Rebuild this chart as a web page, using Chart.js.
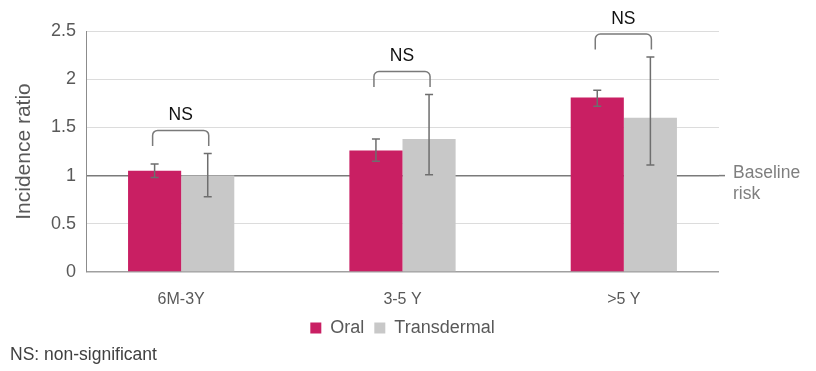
<!DOCTYPE html>
<html>
<head>
<meta charset="utf-8">
<script src="https://cdn.jsdelivr.net/npm/chart.js@4.4.1/dist/chart.umd.min.js"></script>
<style>
  html, body { margin: 0; padding: 0; background: #fff; }
  #wrap { position: relative; width: 816px; height: 371px; }
  #note { position: absolute; left: 10px; top: 344px; font: 17.5px 'Liberation Sans', Arial, sans-serif; color: #404040; }
</style>
</head>
<body>
<div id="wrap">
  <canvas id="chart" width="816" height="371"></canvas>
  <div id="note">NS: non-significant</div>
</div>
<script>
// values
const categories = ["6M-3Y", "3-5 Y", ">5 Y"];
const oralValues = [1.05, 1.26, 1.81];
const oralLow = [0.98, 1.15, 1.72];
const oralHigh = [1.12, 1.38, 1.885];
const transValues = [1.0, 1.38, 1.60];
const transLow = [0.78, 1.01, 1.11];
const transHigh = [1.23, 1.84, 2.23];
const sigLabels = ["NS", "NS", "NS"];
const yTicks = [0, 0.5, 1, 1.5, 2, 2.5];
const baselineValue = 1;
const baselineLabel = ["Baseline", "risk"];

const FONT = "'Liberation Sans', Arial, sans-serif";
Chart.defaults.font.family = FONT;
Chart.defaults.color = "#595959";

const annotations = {
    id: "annotations",
    afterDatasetsDraw(chart) {
        const ctx = chart.ctx;
        const y = chart.scales.y;
        ctx.save();
        ctx.lineWidth = 1.5;
        ctx.strokeStyle = "#6e6e6e";

        // error bars
        [[oralLow, oralHigh], [transLow, transHigh]].forEach(([lo, hi], d) => {
            chart.getDatasetMeta(d).data.forEach((bar, i) => {
                const top = y.getPixelForValue(hi[i]);
                const bot = y.getPixelForValue(lo[i]);
                ctx.beginPath();
                ctx.moveTo(bar.x, top);
                ctx.lineTo(bar.x, bot);
                ctx.moveTo(bar.x - 4, top);
                ctx.lineTo(bar.x + 4, top);
                ctx.moveTo(bar.x - 4, bot);
                ctx.lineTo(bar.x + 4, bot);
                ctx.stroke();
            });
        });

        // significance brackets
        const oralBars = chart.getDatasetMeta(0).data;
        const transBars = chart.getDatasetMeta(1).data;
        ctx.strokeStyle = "#7a7a7a";
        ctx.fillStyle = "#111";
        ctx.font = "17.5px " + FONT;
        ctx.textAlign = "center";
        ctx.textBaseline = "middle";
        sigLabels.forEach((label, i) => {
            const x1 = oralBars[i].x - 2;
            const x2 = transBars[i].x + 1;
            const errTop = Math.min(y.getPixelForValue(oralHigh[i]), y.getPixelForValue(transHigh[i]));
            const bottom = errTop - 7.5;
            const top = bottom - 15.5;
            const r = 5;
            ctx.beginPath();
            ctx.moveTo(x1, bottom);
            ctx.arcTo(x1, top, x2, top, r);
            ctx.arcTo(x2, top, x2, bottom, r);
            ctx.lineTo(x2, bottom);
            ctx.stroke();
            ctx.fillText(label, (x1 + x2) / 2, top - 15);
        });
        ctx.restore();
    },
    afterDraw(chart) {
        const ctx = chart.ctx;
        const area = chart.chartArea;
        const by = chart.scales.y.getPixelForValue(baselineValue);
        ctx.save();
        ctx.strokeStyle = "#7a7a7a";
        ctx.lineWidth = 1.5;
        ctx.beginPath();
        ctx.moveTo(area.right, by);
        ctx.lineTo(area.right + 6, by);
        ctx.stroke();
        ctx.fillStyle = "#7f7f7f";
        ctx.font = "17.5px " + FONT;
        ctx.textAlign = "left";
        ctx.textBaseline = "middle";
        ctx.fillText(baselineLabel[0], area.right + 14, by - 2);
        ctx.fillText(baselineLabel[1], area.right + 14, by + 19);
        ctx.restore();
    }
};

const ctx = document.getElementById("chart").getContext("2d");

new Chart(ctx, {
    type: "bar",
    data: {
        datasets: [
            {
                label: "Oral",
                data: oralValues.map((v, i) => ({ x: i, y: v })),
                backgroundColor: "#c91f63",
                categoryPercentage: 0.48,
                barPercentage: 1,
            },
            {
                label: "Transdermal",
                data: transValues.map((v, i) => ({ x: i, y: v })),
                backgroundColor: "#c8c8c8",
                categoryPercentage: 0.48,
                barPercentage: 1,
            },
        ],
    },
    options: {
        responsive: false,
        animation: false,
        layout: { padding: { top: 31, right: 97, bottom: 24, left: 0 } },
        scales: {
            x: {
                type: "linear",
                offset: false,
                min: -0.43,
                max: 2.43,
                afterBuildTicks: (scale) => {
                    scale.ticks = categories.map((c, i) => ({ value: i }));
                },
                afterFit: (scale) => { scale.height = 37; },
                grid: { display: false, drawTicks: false },
                border: { display: false },
                ticks: {
                    padding: 18,
                    font: { size: 16 },
                    color: "#595959",
                    callback: (v) => categories[v],
                },
            },
            y: {
                min: 0,
                max: 2.5,
                afterBuildTicks: (scale) => {
                    scale.ticks = yTicks.map((v) => ({ value: v }));
                },
                afterFit: (scale) => { scale.width = 86; },
                grid: {
                    drawTicks: false,
                    color: (c) => c.tick.value === baselineValue ? "#7a7a7a"
                        : c.tick.value === 0 ? "#a0a0a0" : "#dcdcdc",
                    lineWidth: (c) => c.tick.value === baselineValue || c.tick.value === 0 ? 1.5 : 1,
                },
                border: { display: true, color: "#8c8c8c", width: 1 },
                ticks: {
                    padding: 10,
                    font: { size: 18 },
                    color: "#595959",
                    callback: (v) => String(v),
                },
                title: {
                    display: true,
                    text: "Incidence ratio",
                    font: { size: 21 },
                    color: "#595959",
                    padding: { top: 12, bottom: 0 },
                },
            },
        },
        plugins: {
            legend: {
                position: "bottom",
                fullSize: false,
                labels: {
                    boxWidth: 11,
                    boxHeight: 11,
                    padding: 10,
                    font: { size: 18 },
                    color: "#595959",
                },
            },
            tooltip: { enabled: false },
        },
    },
    plugins: [annotations],
});
</script>
</body>
</html>
